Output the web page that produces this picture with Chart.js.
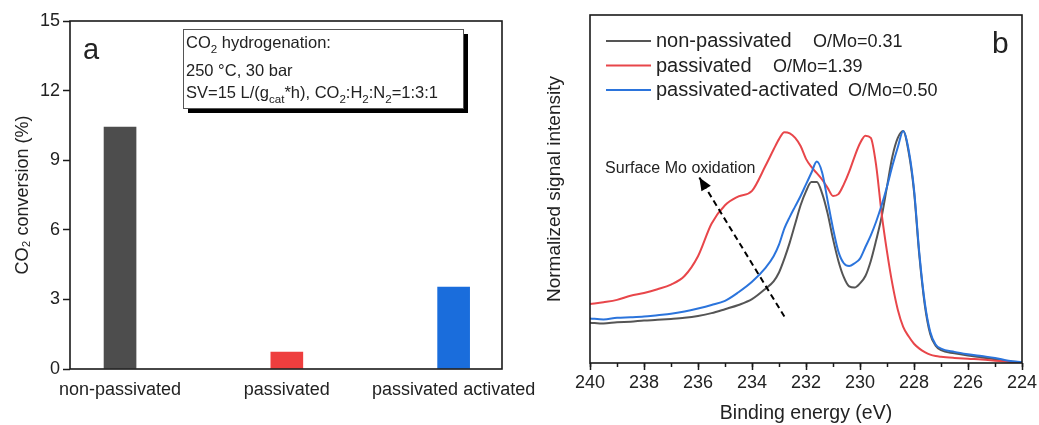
<!DOCTYPE html>
<html>
<head>
<meta charset="utf-8">
<script src="https://cdn.jsdelivr.net/npm/chart.js@4.4.1/dist/chart.umd.min.js"></script>
<style>
  html, body { margin: 0; padding: 0; background: #fff; }
  #wrap { position: relative; width: 1039px; height: 425px; overflow: hidden; }
  #chartA { position: absolute; left: 0; top: 0; }
  #chartB { position: absolute; left: 520px; top: 0; }
</style>
</head>
<body>
<div id="wrap">
  <canvas id="chartA" width="540" height="425"></canvas>
  <canvas id="chartB" width="519" height="425"></canvas>
</div>
<script>
const FONT = "'Liberation Sans', Arial, sans-serif";
const INK = "#1a1a1a";
const TEXT = "#222222";

// panel a: CO2 conversion
const catalysts = ["non-passivated", "passivated", "passivated activated"];
const conversion = [10.43, 0.73, 3.53];
const barColors = ["#4d4d4d", "#ee3e3e", "#1a6ddc"];

// panel b: Mo 3d XPS
const energy = [240, 239.5, 239, 238.5, 238, 237.5, 237, 236.5, 236, 235.5, 235, 234.5, 234, 233.5,
  233.2, 233, 232.8, 232.6, 232.4, 232.2, 232, 231.8, 231.6, 231.4, 231.2, 231, 230.8, 230.6,
  230.4, 230.2, 230, 229.8, 229.6, 229.4, 229.2, 229, 228.8, 228.6, 228.4, 228.2, 228, 227.8,
  227.6, 227.4, 227.2, 227, 226.5, 226, 225.5, 225, 224.5, 224];
const nonPassivated = [0.174, 0.170, 0.176, 0.178, 0.183, 0.186, 0.190, 0.195, 0.203, 0.215, 0.232, 0.250, 0.275, 0.320,
  0.352, 0.39, 0.45, 0.52, 0.60, 0.68, 0.74, 0.78, 0.78, 0.73, 0.645, 0.535, 0.44, 0.37,
  0.33, 0.325, 0.343, 0.375, 0.44, 0.53, 0.63, 0.76, 0.89, 0.97, 1.0, 0.91, 0.74, 0.46,
  0.25, 0.125, 0.075, 0.055, 0.042, 0.032, 0.024, 0.016, 0.008, 0.002];
const passivated = [0.254, 0.262, 0.272, 0.29, 0.302, 0.318, 0.338, 0.375, 0.46, 0.60, 0.68, 0.718, 0.742, 0.85,
  0.92, 0.965, 0.995, 0.99, 0.97, 0.935, 0.88, 0.845, 0.818, 0.79, 0.755, 0.72, 0.728, 0.77,
  0.825, 0.89, 0.947, 0.98, 0.97, 0.85, 0.645, 0.48, 0.34, 0.23, 0.156, 0.115, 0.083, 0.062,
  0.047, 0.036, 0.03, 0.027, 0.022, 0.018, 0.015, 0.01, 0.005, 0.001];
const passivatedActivated = [0.192, 0.188, 0.195, 0.197, 0.200, 0.206, 0.212, 0.222, 0.235, 0.25, 0.268, 0.305, 0.35, 0.41,
  0.46, 0.51, 0.58, 0.63, 0.675, 0.72, 0.77, 0.82, 0.868, 0.82, 0.70, 0.58, 0.48, 0.43,
  0.418, 0.43, 0.45, 0.50, 0.55, 0.61, 0.68, 0.76, 0.85, 0.93, 1.0, 0.92, 0.75, 0.47,
  0.26, 0.135, 0.08, 0.062, 0.048, 0.038, 0.03, 0.022, 0.01, 0.003];
const seriesNames = ["non-passivated", "passivated", "passivated-activated"];
const oMoRatios = ["O/Mo=0.31", "O/Mo=1.39", "O/Mo=0.50"];
const lineColors = ["#555555", "#e8464a", "#2b74dc"];
const arrowEnergy = [232.8, 235.95];
const arrowLevel = [0.2, 0.8];

function drawRuns(ctx, x, y, runs, size) {
  runs.forEach(([text, sub]) => {
    ctx.font = (sub ? size * 0.7 : size) + "px " + FONT;
    ctx.fillText(text, x, sub ? y + size * 0.28 : y);
    x += ctx.measureText(text).width;
  });
}

const frame = {
  id: "frame",
  afterDatasetsDraw(chart) {
    const { ctx, chartArea: a } = chart;
    ctx.save();
    ctx.strokeStyle = INK;
    ctx.lineWidth = 1.6;
    ctx.strokeRect(a.left, a.top, a.right - a.left, a.bottom - a.top);
    ctx.restore();
  }
};

const insetLines = [
  [["CO"], ["2", 1], [" hydrogenation:"]],
  [["250 \u00b0C, 30 bar"]],
  [["SV=15 L/(g"], ["cat", 1], ["*h), CO"], ["2", 1], [":H"], ["2", 1], [":N"], ["2", 1], ["=1:3:1"]]
];
const insetBaselines = [19, 47, 69];

const panelA = {
  id: "panelA",
  afterDraw(chart) {
    const { ctx, chartArea: a } = chart;
    const x = a.left + 113, y = a.top + 8, w = 280, h = 79;
    ctx.save();
    ctx.fillStyle = "#000";
    ctx.fillRect(x + 5, y + 5, w, h);
    ctx.fillStyle = "#fff";
    ctx.fillRect(x, y, w, h);
    ctx.strokeStyle = "#555";
    ctx.lineWidth = 1;
    ctx.strokeRect(x + 0.5, y + 0.5, w, h);
    ctx.fillStyle = TEXT;
    ctx.textBaseline = "alphabetic";
    insetLines.forEach((runs, i) => drawRuns(ctx, x + 3, y + insetBaselines[i], runs, 16.5));
    ctx.font = "29px " + FONT;
    ctx.fillText("a", a.left + 13, a.top + 38);
    ctx.restore();
  }
};

new Chart(document.getElementById("chartA"), {
  type: "bar",
  data: {
    datasets: [{
      data: conversion.map((v, i) => ({ x: i, y: v })),
      backgroundColor: barColors,
      borderWidth: 0,
      barThickness: 32
    }]
  },
  options: {
    responsive: false,
    animation: false,
    layout: { padding: { left: 0, top: 21, right: 38, bottom: 0 } },
    plugins: { legend: { display: false }, tooltip: { enabled: false } },
    scales: {
      x: {
        type: "linear",
        min: -0.3,
        max: 2.29,
        offset: false,
        grid: { display: false, offset: false },
        border: { display: false },
        afterBuildTicks: (s) => { s.ticks = catalysts.map((c, i) => ({ value: i })); },
        ticks: {
          autoSkip: false,
          maxRotation: 0,
          padding: 2,
          color: TEXT,
          font: { family: FONT, size: 18 },
          callback: (v) => catalysts[Math.round(v)] || ""
        },
        afterFit: (s) => { s.height = 56; s.paddingLeft = 0; s.paddingRight = 0; }
      },
      y: {
        min: 0,
        max: 15,
        grid: { drawOnChartArea: false, tickLength: 7, tickColor: INK, tickWidth: 1.5 },
        border: { display: false },
        ticks: { stepSize: 3, padding: 3, color: TEXT, font: { family: FONT, size: 18 } },
        title: {
          display: true,
          text: "CO\u2082 conversion (%)",
          color: TEXT,
          font: { family: FONT, size: 18 },
          padding: { top: 12, bottom: 0 }
        },
        afterFit: (s) => { s.width = 70; s.paddingTop = 0; s.paddingBottom = 0; }
      }
    }
  },
  plugins: [frame, panelA]
});

const panelB = {
  id: "panelB",
  afterDraw(chart) {
    const { ctx, chartArea: a, scales } = chart;
    ctx.save();
    // legend
    const oMoOffsets = [223, 183, 258];
    seriesNames.forEach((name, i) => {
      const y = a.top + 26 + i * 24.5;
      ctx.strokeStyle = lineColors[i];
      ctx.lineWidth = 2;
      ctx.beginPath();
      ctx.moveTo(a.left + 16, y);
      ctx.lineTo(a.left + 61, y);
      ctx.stroke();
      ctx.fillStyle = TEXT;
      ctx.textBaseline = "alphabetic";
      ctx.font = "20px " + FONT;
      ctx.fillText(name, a.left + 66, y + 6);
      ctx.font = "18px " + FONT;
      ctx.fillText(oMoRatios[i], a.left + oMoOffsets[i], y + 6);
    });
    ctx.font = "30px " + FONT;
    ctx.fillText("b", a.left + 402, a.top + 38);
    // annotation
    ctx.font = "16px " + FONT;
    ctx.fillText("Surface Mo oxidation", scales.x.getPixelForValue(239.44), scales.y.getPixelForValue(0.82));
    // arrow head
    const pts = chart.getDatasetMeta(3).data;
    const p0 = pts[0], p1 = pts[1];
    const ang = Math.atan2(p1.y - p0.y, p1.x - p0.x);
    const L = 13, W = 5.5;
    ctx.fillStyle = "#000";
    ctx.beginPath();
    ctx.moveTo(p1.x, p1.y);
    ctx.lineTo(p1.x - L * Math.cos(ang) + W * Math.sin(ang), p1.y - L * Math.sin(ang) - W * Math.cos(ang));
    ctx.lineTo(p1.x - L * Math.cos(ang) - W * Math.sin(ang), p1.y - L * Math.sin(ang) + W * Math.cos(ang));
    ctx.closePath();
    ctx.fill();
    ctx.restore();
  }
};

const series = [nonPassivated, passivated, passivatedActivated];
const lineOrder = [2, 1, 0];

new Chart(document.getElementById("chartB"), {
  type: "line",
  data: {
    datasets: series.map((vals, i) => ({
      label: seriesNames[i],
      data: energy.map((e, j) => ({ x: e, y: vals[j] })),
      borderColor: lineColors[i],
      borderWidth: 2,
      pointRadius: 0,
      cubicInterpolationMode: "monotone",
      order: lineOrder[i]
    })).concat([{
      label: "arrow",
      data: arrowEnergy.map((e, j) => ({ x: e, y: arrowLevel[j] })),
      borderColor: "#000",
      borderWidth: 2,
      borderDash: [6, 4],
      pointRadius: 0,
      order: -1
    }])
  },
  options: {
    responsive: false,
    animation: false,
    layout: { padding: { left: 0, top: 15, right: 17, bottom: 0 } },
    plugins: { legend: { display: false }, tooltip: { enabled: false } },
    scales: {
      x: {
        type: "linear",
        min: 224,
        max: 240,
        reverse: true,
        grid: { drawOnChartArea: false, tickLength: 7, tickColor: INK, tickWidth: 1.5 },
        border: { display: false },
        ticks: { stepSize: 2, padding: 2, maxRotation: 0, color: TEXT, font: { family: FONT, size: 18 } },
        title: {
          display: true,
          text: "Binding energy (eV)",
          color: TEXT,
          font: { family: FONT, size: 19.5 },
          padding: { top: 0, bottom: 0 }
        },
        afterFit: (s) => { s.height = 62; s.paddingLeft = 0; s.paddingRight = 0; }
      },
      x2: {
        type: "linear",
        axis: "x",
        position: { y: 0 },
        min: 224,
        max: 240,
        reverse: true,
        grid: { drawOnChartArea: false, tickLength: 4, tickColor: INK, tickWidth: 1.5 },
        border: { display: false },
        ticks: { stepSize: 1, display: false }
      },
      y: {
        min: 0,
        max: 1.5,
        grid: { display: false },
        border: { display: false },
        ticks: { display: false },
        title: {
          display: true,
          text: "Normalized signal intensity",
          color: TEXT,
          font: { family: FONT, size: 19 },
          padding: { top: 23.5, bottom: 0 }
        },
        afterFit: (s) => { s.width = 70; s.paddingTop = 0; s.paddingBottom = 0; }
      }
    }
  },
  plugins: [frame, panelB]
});
</script>
</body>
</html>
